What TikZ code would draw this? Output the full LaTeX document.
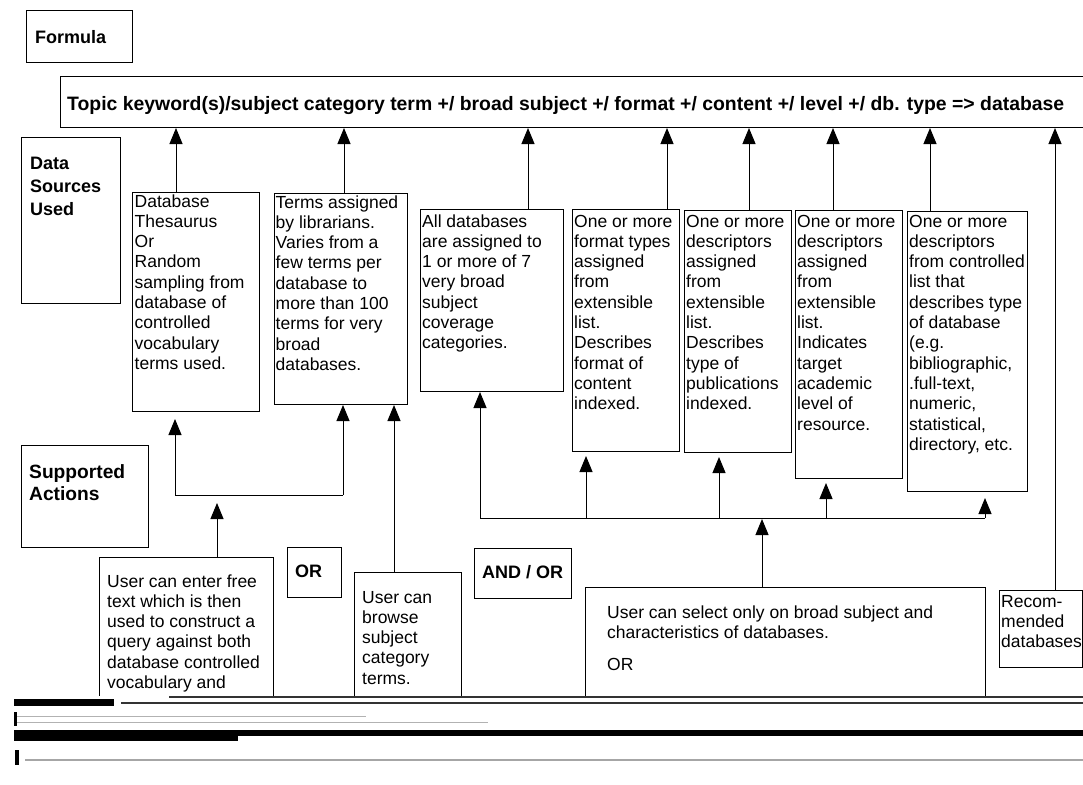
\documentclass[tikz,border=0pt]{standalone}
\usepackage{fontspec}
\setmainfont{Liberation Sans}
\usetikzlibrary{arrows.meta}
\newcommand\bodyfont{\fontsize{17.5}{20.3}\selectfont}
\newcommand\labfont{\fontsize{18}{23}\selectfont\bfseries}
\newcommand\ls[1]{\begin{tabular}[t]{@{}l@{}}#1\end{tabular}}
\tikzset{
  bx/.style={draw, line width=1pt, inner sep=0pt, anchor=north west},
  tx/.style={inner sep=0pt, anchor=base west, font=\bodyfont},
  lab/.style={inner sep=0pt, anchor=base west, font=\labfont},
  arr/.style={-{Triangle[width=13pt,length=16pt]}, line width=1pt},
  ln/.style={line width=1pt},
}
\begin{document}
\begin{tikzpicture}[x=1pt,y=-1pt]
\useasboundingbox (0,0) rectangle (1083,784);
\clip (0,0) rectangle (1083,784);
\fill[white] (0,0) rectangle (1083,784);

% x positions of connectors
\foreach \n/\v in {xa/176,xb/344,xc/528,xd/667,xe/749,xf/833,xg/930,xr/1055,
  xl1/175,xl2/343,xin/217,xbr/394,xr1/480,xr4/586,xr5/719,xr6/826,xr7/985,xbig/762}
  {\coordinate (\n) at (\v,0);}
\coordinate (yl) at (0,495);
\coordinate (yr) at (0,518);

% header boxes
\node[bx, minimum width=106pt, minimum height=52pt] (formula) at (26,10) {};
\node[lab] (formulaT) at (35,44) {Formula};
\node[bx, minimum width=1040pt, minimum height=51pt] (title) at (60,76) {};
\node[lab, font=\fontsize{19.4}{23}\selectfont\bfseries] (titleT) at (67,110) {Topic keyword(s)/subject category term +/ broad subject +/ format +/ content +/ level +/ db. type => database};

\node[bx, minimum width=99pt, minimum height=166pt] (dsu) at (21,137) {};
\node[lab] (dsuT) at (30,169) {\fontsize{18}{23}\selectfont\bfseries\ls{Data\\Sources\\Used}};

% data source boxes
\node[bx, minimum width=127pt, minimum height=219pt] (b1) at (132,192) {};
\node[tx] (b1T) at (134.5,207) {\ls{Database\\Thesaurus\\Or\\Random\\sampling from\\database of\\controlled\\vocabulary\\terms used.}};
\node[bx, minimum width=133pt, minimum height=211pt] (b2) at (274,193) {};
\node[tx] (b2T) at (275.5,208) {\ls{Terms assigned\\by librarians.\\Varies from a\\few terms per\\database to\\more than 100\\terms for very\\broad\\databases.}};
\node[bx, minimum width=143pt, minimum height=182pt] (b3) at (420,209) {};
\node[tx] (b3T) at (422,227) {\ls{All databases\\are assigned to\\1 or more of 7\\very broad\\subject\\coverage\\categories.}};
\node[bx, minimum width=107pt, minimum height=242pt] (b4) at (572,209) {};
\node[tx] (b4T) at (574,227) {\ls{One or more\\format types\\assigned\\from\\extensible\\list.\\Describes\\format of\\content\\indexed.}};
\node[bx, minimum width=107pt, minimum height=242pt] (b5) at (684,210) {};
\node[tx] (b5T) at (686,227) {\ls{One or more\\descriptors\\assigned\\from\\extensible\\list.\\Describes\\type of\\publications\\indexed.}};
\node[bx, minimum width=107pt, minimum height=268pt] (b6) at (795,210) {};
\node[tx] (b6T) at (797,227) {\ls{One or more\\descriptors\\assigned\\from\\extensible\\list.\\Indicates\\target\\academic\\level of\\resource.}};
\node[bx, minimum width=120pt, minimum height=280pt] (b7) at (907,211) {};
\node[tx] (b7T) at (909,227) {\ls{One or more\\descriptors\\from controlled\\list that\\describes type\\of database\\(e.g.\\bibliographic,\\.full-text,\\numeric,\\statistical,\\directory, etc.}};

% supported actions
\node[bx, minimum width=127pt, minimum height=102pt] (sa) at (21,445) {};
\node[lab] (saT) at (29,478) {\fontsize{19.2}{22}\selectfont\bfseries\ls{Supported\\Actions}};
\node[bx, minimum width=54pt, minimum height=50pt] (orb) at (287,547) {};
\node[lab] (orbT) at (295,577) {OR};
\node[bx, minimum width=97pt, minimum height=50pt] (andor) at (474,548) {};
\node[lab] (andorT) at (482,578) {AND / OR};
\node[bx, minimum width=83pt, minimum height=77pt] (rec) at (999,590) {};
\node[tx] (recT) at (1001,607) {\ls{Recom-\\mended\\databases}};

\begin{scope}
\clip (0,0) rectangle (1083,695);
\node[bx, minimum width=174pt, minimum height=200pt] (free) at (99,557) {};
\node[tx] (freeT) at (107,587) {\ls{User can enter free\\text which is then\\used to construct a\\query against both\\database controlled\\vocabulary and}};
\node[bx, minimum width=107pt, minimum height=200pt] (browse) at (354,572) {};
\node[tx] (browseT) at (362,603) {\ls{User can\\browse\\subject\\category\\terms.}};
\node[bx, minimum width=400pt, minimum height=200pt] (big) at (585,587) {};
\node[tx] (bigT) at (607,618) {\ls{User can select only on broad subject and\\characteristics of databases.}};
\node[tx] (bigOR) at (607,670) {OR};
\end{scope}

% arrows to formula
\foreach \b/\x in {b1/xa,b2/xb,b3/xc,b4/xd,b5/xe,b6/xf,b7/xg}
  {\draw[arr] (\b.north -| \x) -- (title.south -| \x);}
\draw[arr] (rec.north -| xr) -- (title.south -| xr);

% left bracket
\draw[ln] (xl1 |- yl) -- (xl2 |- yl);
\draw[arr, shorten >=7pt] (xl1 |- yl) -- (b1.south -| xl1);
\draw[arr] (xl2 |- yl) -- (b2.south -| xl2);
\draw[arr, shorten >=8pt] (free.north -| xin) -- (xin |- yl);
\draw[arr] (browse.north -| xbr) -- (b2.south -| xbr);

% right bracket
\draw[ln] (xr1 |- yr) -- (xr7 |- yr);
\draw[arr] (xr1 |- yr) -- (b3.south -| xr1);
\draw[arr, shorten >=4pt] (xr4 |- yr) -- (b4.south -| xr4);
\draw[arr, shorten >=4pt] (xr5 |- yr) -- (b5.south -| xr5);
\draw[arr, shorten >=4pt] (xr6 |- yr) -- (b6.south -| xr6);
\draw[arr, shorten >=6pt] (xr7 |- yr) -- (b7.south -| xr7);
\draw[arr, shorten >=1pt] (big.north -| xbig) -- (xbig |- yr);

% scan artefacts at the bottom
\fill[black] (14,699) rectangle (114,706);
\draw[line width=1.2pt, black!80] (169,697) -- (1083,697);
\draw[line width=1.2pt, black!80] (121,703) -- (1083,703);
\draw[line width=1pt, black!30] (14,716) -- (366,716);
\draw[line width=1pt, black!30] (14,722) -- (488,722);
\fill[black] (14,730) rectangle (1083,736);
\fill[black] (14,730) rectangle (238,741);
\fill[black] (14,712) rectangle (17,726);
\fill[black] (15,750) rectangle (19,765);
\draw[line width=1.5pt, black!35] (25,760) -- (1083,760);
\end{tikzpicture}
\end{document}
